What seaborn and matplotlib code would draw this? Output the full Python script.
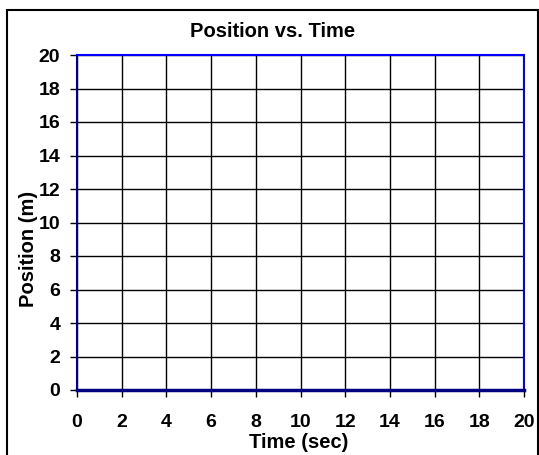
import matplotlib
matplotlib.use("Agg")
import matplotlib.pyplot as plt
import seaborn as sns
import pandas as pd
from matplotlib.patches import Rectangle

# Chart text and axis values
title = "Position vs. Time"
x_label = "Time (sec)"
y_label = "Position (m)"
x_ticks = [0, 2, 4, 6, 8, 10, 12, 14, 16, 18, 20]
y_ticks = [0, 2, 4, 6, 8, 10, 12, 14, 16, 18, 20]
# No plotted data (empty chart)
time_sec = []
position_m = []

sns.set_style("white")
plt.rcParams["font.family"] = ["Liberation Sans", "DejaVu Sans"]
plt.rcParams["font.weight"] = "bold"
plt.rcParams["text.color"] = "black"
plt.rcParams["axes.labelcolor"] = "black"

fig = plt.figure(figsize=(5.39, 4.55), dpi=100)
ax = fig.add_axes([77/539, 65/455, 447/539, 335/455])

df = pd.DataFrame({"time": pd.Series(time_sec, dtype=float),
                   "position": pd.Series(position_m, dtype=float)})
sns.lineplot(data=df, x="time", y="position", ax=ax, color="#000080")

ax.set_xlim(x_ticks[0], x_ticks[-1])
ax.set_ylim(y_ticks[0], y_ticks[-1])
ax.set_xticks(x_ticks)
ax.set_yticks(y_ticks)
ax.set_xticklabels([str(t) for t in x_ticks], fontsize=14, fontweight="bold")
ax.set_yticklabels([str(t) for t in y_ticks], fontsize=14, fontweight="bold")
ax.tick_params(axis="both", direction="out", length=5, width=1, color="black",
               labelcolor="black", left=True, bottom=True)
ax.tick_params(axis="x", pad=12)
ax.tick_params(axis="y", pad=7)
ax.grid(True, color="black", linewidth=1)
ax.set_axisbelow(True)

for side, c, lw in [("left", "#000080", 1.5), ("bottom", "#000080", 2.5),
                    ("top", "#0000ff", 1.5), ("right", "#0000ff", 1.5)]:
    ax.spines[side].set_visible(True)
    ax.spines[side].set_color(c)
    ax.spines[side].set_linewidth(lw)
    ax.spines[side].set_zorder(5)

ax.set_xlabel(x_label, fontsize=14.5, fontweight="bold")
ax.set_ylabel(y_label, fontsize=14.5, fontweight="bold")
ax.xaxis.set_label_coords(0.497, -0.128)
ax.yaxis.set_label_coords(-0.087, 0.42)
fig.text(273/539, 1 - 37/455, title, ha="center", va="baseline",
         fontsize=14.5, fontweight="bold")

# outer chart-area frame
fig.patches.append(Rectangle((7/539, -0.01), 531/539, 1 - 10/455 + 0.01,
                             transform=fig.transFigure, fill=False,
                             edgecolor="black", linewidth=1.5))

fig.savefig("out.png", dpi=100)
